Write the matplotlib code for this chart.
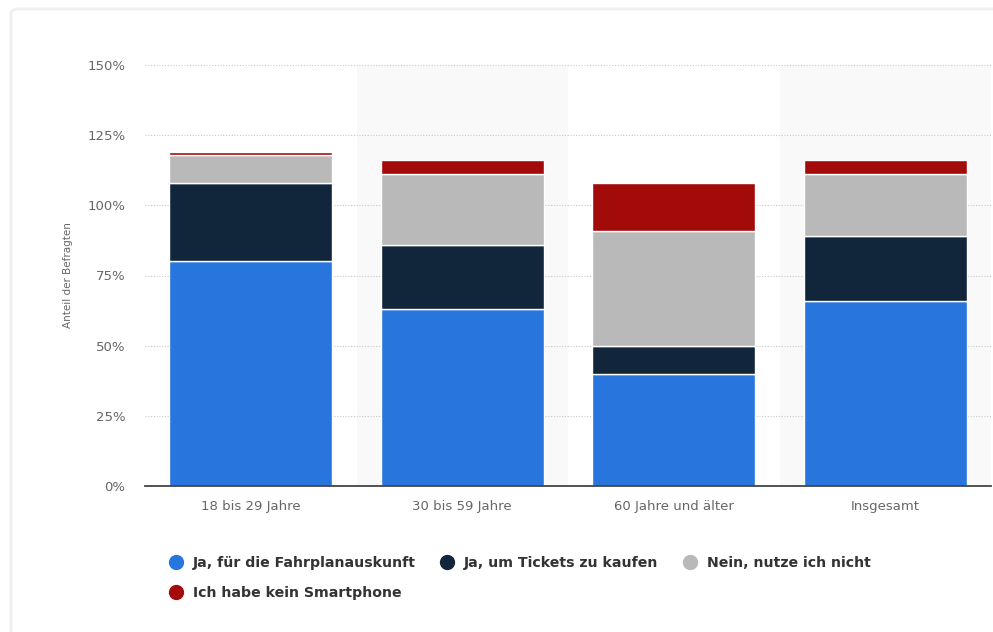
import matplotlib
matplotlib.use("Agg")
import matplotlib.pyplot as plt
from matplotlib.lines import Line2D
from matplotlib.patches import FancyBboxPatch
import numpy as np

categories = ["18 bis 29 Jahre", "30 bis 59 Jahre", "60 Jahre und älter", "Insgesamt"]
series_names = ["Ja, für die Fahrplanauskunft", "Ja, um Tickets zu kaufen",
                "Nein, nutze ich nicht", "Ich habe kein Smartphone"]
fahrplan = [80, 63, 40, 66]
tickets = [28, 23, 10, 23]
nein = [10, 25, 41, 22]
kein_smartphone = [1, 5, 17, 5]
colors = ["#2876dd", "#12263b", "#b9b9b9", "#a30b0b"]
yticks = [0, 25, 50, 75, 100, 125, 150]
ytick_labels = ["0%", "25%", "50%", "75%", "100%", "125%", "150%"]

W, H = 993, 632
fig = plt.figure(figsize=(W / 100, H / 100), dpi=100)
fig.patch.set_facecolor("white")

# card border
card = FancyBboxPatch((11 / W, -0.05), 1.1, (H - 9) / H + 0.05,
                      boxstyle="round,pad=0,rounding_size=0.008",
                      transform=fig.transFigure, facecolor="white",
                      edgecolor="#efefef", linewidth=2.0, zorder=-10)
fig.patches.append(card)

ax = fig.add_axes([145 / W, (H - 486) / H, (991 - 145) / W, (486 - 65) / H])
ax.set_facecolor("none")

x = np.arange(len(categories))
for i in range(len(categories)):
    if i % 2 == 1:
        ax.axvspan(i - 0.5, i + 0.5, color="#f9f9f9", zorder=0, lw=0)

data = [fahrplan, tickets, nein, kein_smartphone]
bottom = np.zeros(len(categories))
for vals, c, name in zip(data, colors, series_names):
    ax.bar(x, vals, bottom=bottom, width=0.77, color=c, edgecolor="white",
           linewidth=1.0, zorder=3, label=name)
    bottom += np.array(vals)

ax.set_xlim(-0.5, len(categories) - 0.5)
ax.set_ylim(0, 150)
ax.set_yticks(yticks)
ax.set_yticklabels(ytick_labels)
ax.set_xticks(x)
ax.set_xticklabels(categories)
ax.yaxis.grid(True, linestyle=(0, (1, 1.5)), color="#c8c8c8", linewidth=0.8, zorder=1)
ax.set_axisbelow(True)
for s in ["top", "right", "left"]:
    ax.spines[s].set_visible(False)
ax.spines["bottom"].set_color("#444444")
ax.spines["bottom"].set_linewidth(1.3)
ax.spines["bottom"].set_zorder(5)
ax.tick_params(axis="both", length=0, colors="#666666", labelsize=9.5)
ax.tick_params(axis="y", pad=14)
ax.tick_params(axis="x", pad=10)
for lab in ax.get_xticklabels() + ax.get_yticklabels():
    lab.set_color("#666666")

fig.text(68 / W, (H - 275) / H, "Anteil der Befragten", rotation=90,
         ha="center", va="center", fontsize=7.5, color="#666666")

handles = [Line2D([0], [0], marker="o", linestyle="none", markersize=10,
                  markerfacecolor=c, markeredgecolor=c) for c in colors]
order = [0, 3, 1, 2]
leg = fig.legend([handles[i] for i in order], [series_names[i] for i in order],
                 loc="upper left", bbox_to_anchor=(169 / W, (H - 556) / H),
                 ncol=3, frameon=False, handletextpad=0.66, columnspacing=1.75,
                 labelspacing=1.15, handlelength=1.0, borderaxespad=0,
                 borderpad=0,
                 prop={"family": "DejaVu Sans", "weight": "bold", "size": 10.2})
for t in leg.get_texts():
    t.set_color("#333333")

fig.savefig("out.png", dpi=100)
